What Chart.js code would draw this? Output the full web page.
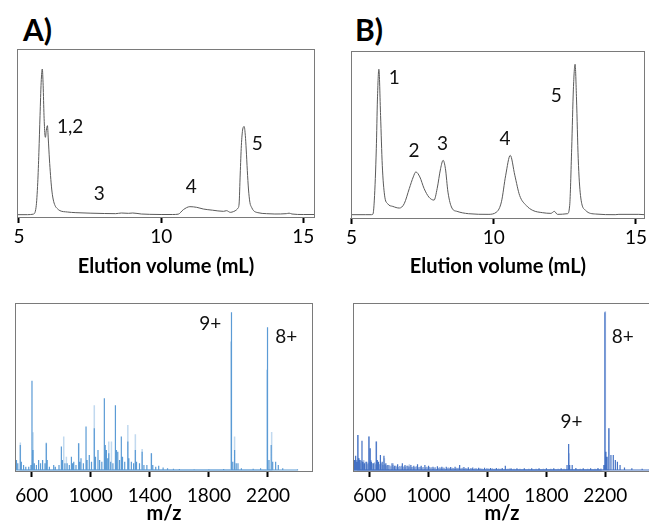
<!DOCTYPE html>
<html><head><meta charset="utf-8">
<script src="https://cdn.jsdelivr.net/npm/chart.js@4/dist/chart.umd.min.js"></script>
<style>
html,body{margin:0;padding:0;background:#fff;width:649px;height:532px;overflow:hidden;position:relative}
canvas{position:absolute}
.panel{position:absolute;font-family:Lato,'Open Sans',sans-serif;font-weight:bold;font-size:30px;line-height:1.2;color:#000}
</style></head><body>
<div class="panel" style="left:23px;top:11px">A)</div>
<div class="panel" style="left:355px;top:11px">B)</div>
<canvas id="ta" width="330" height="290" style="left:0;top:0"></canvas>
<canvas id="tb" width="319" height="290" style="left:330px;top:0"></canvas>
<canvas id="ma" width="330" height="242" style="left:0;top:290px"></canvas>
<canvas id="mb" width="330" height="242" style="left:330px;top:290px"></canvas>
<script>
// ---------- DATA ----------
// Chromatogram A (elution volume mL, relative absorbance)
const chromA_x = [4.93,5.3,5.5,5.6,5.66,5.7,5.74,5.78,5.82,5.85,5.88,5.91,5.93,5.96,6.0,6.03,6.07,6.11,6.15,6.2,6.27,6.35,6.44,6.7,7.0,7.5,8.0,8.4,8.6,8.85,9.0,9.3,9.6,10.0,10.4,10.6,10.78,11.01,11.25,11.48,11.8,12.19,12.3,12.43,12.55,12.65,12.7,12.74,12.78,12.82,12.87,12.92,12.96,12.99,13.03,13.07,13.12,13.18,13.25,13.4,13.7,14.0,14.4,14.5,14.6,15.0,15.41];
const chromA_y = [0.006,0.006,0.009,0.05,0.2,0.38,0.6,0.8,0.88,0.78,0.6,0.49,0.47,0.51,0.54,0.46,0.34,0.24,0.16,0.1,0.06,0.042,0.03,0.022,0.018,0.015,0.013,0.012,0.016,0.014,0.016,0.01,0.008,0.007,0.007,0.009,0.036,0.054,0.05,0.04,0.033,0.026,0.03,0.02,0.025,0.035,0.045,0.07,0.25,0.42,0.52,0.535,0.48,0.4,0.27,0.16,0.08,0.05,0.03,0.018,0.012,0.01,0.012,0.015,0.01,0.007,0.007];
// Chromatogram B
const chromB_x = [4.98,5.5,5.7,5.75,5.8,5.87,5.91,5.96,6.02,6.08,6.16,6.27,6.45,6.68,6.85,7.03,7.17,7.26,7.4,7.55,7.72,7.9,8.01,8.13,8.22,8.3,8.39,8.53,8.71,9.11,9.8,10.1,10.27,10.42,10.58,10.74,10.91,11.14,11.37,11.72,12.01,12.13,12.24,12.59,12.67,12.74,12.8,12.86,12.91,12.97,13.05,13.23,13.58,14.27,14.4,15.1,15.31];
const chromB_y = [0.012,0.012,0.012,0.015,0.1,0.41,0.71,0.89,0.61,0.31,0.13,0.078,0.062,0.052,0.078,0.17,0.24,0.27,0.24,0.17,0.118,0.1,0.17,0.29,0.34,0.29,0.148,0.052,0.032,0.018,0.014,0.028,0.09,0.25,0.37,0.25,0.128,0.068,0.038,0.024,0.02,0.032,0.014,0.018,0.068,0.41,0.77,0.92,0.71,0.35,0.128,0.038,0.016,0.012,0.014,0.014,0.012];
const chromTicks = [5,10,15];
const peaksA_text = ['1,2','3','4','5'];
const peaksA_x = [6.8,7.82,11.06,13.38];
const peaksA_y = [0.53,0.13,0.17,0.43];
const peaksB_text = ['1','2','3','4','5'];
const peaksB_x = [6.5,7.2,8.2,10.4,12.2];
const peaksB_y = [0.84,0.4,0.44,0.47,0.73];

// Mass spectrum A (m/z, relative intensity)
const msA_mz = [497,506,523,530,545,560,580,595,602,609,618,632,647,660,674,690,699,705,720,749,760,785,801,808,825,840,855,869,877,885,900,918,925,934,950,968,975,990,1005,1024,1032,1049,1060,1075,1092,1098,1106,1115,1122,1135,1150,1167,1174,1183,1195,1207,1215,1230,1251,1258,1275,1290,1302,1310,1330,1348,1360,1380,1411,1420,1440,1460,1490,1520,1560,1600,1700,1800,1900,1953,1962,1974,1985,1997,2020,2100,2150,2197,2207,2222,2232,2252,2270,2300,2400];
const msA_int = [0.06,0.04,0.15,0.05,0.03,0.02,0.02,0.03,0.535,0.12,0.04,0.03,0.06,0.04,0.06,0.04,0.16,0.06,0.02,0.03,0.02,0.03,0.14,0.06,0.04,0.04,0.03,0.08,0.04,0.05,0.03,0.16,0.05,0.07,0.04,0.26,0.06,0.09,0.05,0.25,0.08,0.12,0.06,0.05,0.43,0.15,0.12,0.07,0.1,0.05,0.04,0.387,0.12,0.11,0.06,0.2,0.08,0.05,0.17,0.07,0.05,0.04,0.12,0.05,0.04,0.11,0.03,0.03,0.1,0.03,0.02,0.025,0.015,0.01,0.008,0.006,0.005,0.005,0.006,0.945,0.05,0.12,0.04,0.04,0.01,0.008,0.01,0.855,0.06,0.15,0.05,0.05,0.03,0.01,0.005];
const msA_light_mz = [523,609,699,817,835,918,1024,1122,1140,1251,1302,1348,1410,1949,1974,2193,2225];
const msA_light_int = [0.165,0.226,0.165,0.2,0.08,0.16,0.387,0.17,0.17,0.27,0.214,0.125,0.1,0.77,0.2,0.6,0.228];

// Mass spectrum B
const msB_mz = [490,497,505,512,520,527,535,548,555,565,580,595,604,612,625,645,652,660,673,685,697,710,725,752,770,790,822,840,860,880,900,925,950,975,1000,1030,1060,1090,1120,1150,1180,1211,1240,1270,1300,1340,1380,1420,1460,1500,1521,1560,1600,1650,1700,1750,1800,1850,1900,1940,1951,1958,1975,2000,2050,2100,2150,2190,2197,2204,2212,2224,2238,2254,2268,2282,2300,2330,2380,2450,2500];
const msB_int = [0.085,0.06,0.085,0.05,0.21,0.07,0.06,0.175,0.05,0.04,0.05,0.2,0.13,0.05,0.04,0.17,0.06,0.05,0.09,0.05,0.085,0.04,0.03,0.04,0.025,0.035,0.04,0.03,0.025,0.03,0.025,0.035,0.025,0.03,0.025,0.02,0.022,0.02,0.02,0.018,0.02,0.03,0.018,0.016,0.015,0.014,0.013,0.012,0.012,0.012,0.025,0.01,0.01,0.01,0.01,0.01,0.01,0.01,0.01,0.03,0.155,0.03,0.03,0.012,0.01,0.01,0.012,0.03,0.945,0.11,0.08,0.25,0.09,0.09,0.06,0.05,0.03,0.015,0.01,0.008,0.008];
const msB_noise_mz = [493,501,509,516,524,531,540,544,552,559,569,574,585,590,600,608,616,620,630,636,641,656,665,669,678,690,702,706,716,720,732,738,744,758,764,778,784,796,803,810,816,828,834,846,852,866,872,886,893,906,912,918,931,938,944,957,963,981,988,994,1007,1014,1020,1038,1046,1068,1076,1083,1098,1106,1128,1136,1142,1160,1170,1188,1196,1203,1220,1230,1250,1260,1285,1292,1315,1325,1350,1362,1395,1405,1432,1445,1475,1488,1535,1548,1580,1620,1680,1730,1780,1830,1880,1920,2030,2080,2130,2170];
const msB_noise_int = [0.05,0.045,0.06,0.04,0.07,0.05,0.04,0.055,0.045,0.035,0.05,0.03,0.035,0.04,0.05,0.06,0.04,0.035,0.045,0.03,0.035,0.04,0.035,0.03,0.04,0.03,0.035,0.03,0.025,0.03,0.02,0.028,0.022,0.03,0.018,0.025,0.02,0.018,0.024,0.02,0.026,0.018,0.022,0.02,0.025,0.016,0.021,0.018,0.02,0.017,0.019,0.022,0.016,0.018,0.02,0.015,0.018,0.016,0.019,0.015,0.018,0.014,0.016,0.015,0.017,0.014,0.016,0.013,0.015,0.014,0.013,0.015,0.012,0.014,0.012,0.013,0.012,0.014,0.011,0.013,0.012,0.011,0.012,0.01,0.011,0.01,0.011,0.009,0.01,0.009,0.01,0.008,0.009,0.008,0.008,0.009,0.008,0.008,0.007,0.008,0.007,0.008,0.007,0.008,0.008,0.007,0.008,0.009];
const msB_light_mz = [520,560,596,646,700,760,870,1954,2200,2224];
const msB_light_int = [0.21,0.06,0.2,0.17,0.07,0.04,0.035,0.1,0.95,0.25];
const msTicks = [600,1000,1400,1800,2200];
const ionsA_text = ['9+','8+'];
const ionsA_mz = [1809,2324];
const ionsA_y = [0.875,0.80];
const ionsB_text = ['9+','8+'];
const ionsB_mz = [1971,2318];
const ionsB_y = [0.29,0.80];

// ---------- RENDER ----------
const FONT = "Lato, 'Open Sans', sans-serif";
const sticks = (mz, inten) => {
  const out = [];
  mz.map((m,i)=>[m,inten[i]]).sort((a,b)=>a[0]-b[0]).forEach(([m,v])=>{out.push({x:m,y:0},{x:m,y:v},{x:m,y:0});});
  return out;
};
const framePlugin = {id:'frame', afterDraw(chart){
  const a = chart.chartArea, ctx = chart.ctx;
  ctx.save(); ctx.strokeStyle = '#7a7a7a'; ctx.lineWidth = 1;
  ctx.strokeRect(Math.round(a.left)+0.5, Math.round(a.top)+0.5, Math.round(a.right-a.left)-1, Math.round(a.bottom-a.top));
  ctx.restore();
}};
const labelPlugin = {id:'peakLabels', afterDatasetsDraw(chart, args, opts){
  if(!opts || !opts.texts) return;
  const ctx = chart.ctx, xs = chart.scales.x, ys = chart.scales.y;
  ctx.save(); ctx.font = '19px ' + FONT; ctx.fillStyle = '#111'; ctx.textAlign = 'center'; ctx.textBaseline = 'middle';
  opts.texts.forEach((t,i)=>ctx.fillText(t, xs.getPixelForValue(opts.xs[i]), ys.getPixelForValue(opts.ys[i])));
  ctx.restore();
}};
function xAxis(min, max, ticks, title, axisH, tickPad, titlePad){
  return {type:'linear', min, max,
    afterBuildTicks: s => { s.ticks = ticks.map(v => ({value:v})); },
    afterFit: s => { s.height = axisH; },
    grid:{display:true, drawOnChartArea:false, drawTicks:true, tickLength:6, tickWidth:2, tickColor:'#000'},
    border:{display:false},
    ticks:{font:{family:FONT, size:19}, color:'#000', padding:tickPad, maxRotation:0, autoSkip:false, callback: v => String(v)},
    title:{display:true, text:title, font:{family:FONT, size:20, weight:'bold'}, color:'#000', padding:{top:0, bottom:titlePad}}
  };
}
function yAxis(min){ return {type:'linear', min, max:1, display:false}; }
function makeChart(id, datasets, xa, ymin, pad, labels){
  new Chart(document.getElementById(id), {
    type:'line',
    data:{datasets},
    options:{responsive:false, animation:false, devicePixelRatio:1,
      layout:{padding:pad},
      plugins:{legend:{display:false}, tooltip:{enabled:false}, peakLabels:labels},
      elements:{point:{radius:0}, line:{tension:0}},
      scales:{x:xa, y:yAxis(ymin)}},
    plugins:[framePlugin, labelPlugin]
  });
}
const pts = (xs, ys) => xs.map((x,i)=>({x, y:ys[i]}));

makeChart('ta', [{data:pts(chromA_x, chromA_y), borderColor:'#5a5a5a', borderWidth:1, cubicInterpolationMode:'monotone'}],
  xAxis(4.93, 15.41, chromTicks, 'Elution volume (mL)', 73, 2, 11), -0.008,
  {left:17, top:49, right:15, bottom:0}, {texts:peaksA_text, xs:peaksA_x, ys:peaksA_y});
makeChart('tb', [{data:pts(chromB_x, chromB_y), borderColor:'#5a5a5a', borderWidth:1, cubicInterpolationMode:'monotone'}],
  xAxis(4.98, 15.31, chromTicks, 'Elution volume (mL)', 72, 2, 11), -0.008,
  {left:21, top:51, right:1, bottom:0}, {texts:peaksB_text, xs:peaksB_x, ys:peaksB_y});
makeChart('ma', [
    {data:sticks(msA_light_mz, msA_light_int), borderColor:'rgba(91,155,213,0.38)', borderWidth:1.5},
    {data:sticks(msA_mz, msA_int), borderColor:'#5b9bd5', borderWidth:1.2}],
  xAxis(487, 2505, msTicks, 'm/z', 61, 7, 6), -0.006,
  {left:15, top:13, right:17, bottom:0}, {texts:ionsA_text, xs:ionsA_mz, ys:ionsA_y});
makeChart('mb', [
    {data:sticks(msB_noise_mz, msB_noise_int), borderColor:'rgba(68,114,196,0.6)', borderWidth:1.5},
    {data:sticks(msB_light_mz, msB_light_int), borderColor:'rgba(68,114,196,0.38)', borderWidth:1.5},
    {data:sticks(msB_mz, msB_int), borderColor:'#4472c4', borderWidth:1.2}],
  xAxis(487, 2510, msTicks, 'm/z', 61, 7, 6), -0.006,
  {left:23, top:13, right:9, bottom:0}, {texts:ionsB_text, xs:ionsB_mz, ys:ionsB_y});
</script>
</body></html>
